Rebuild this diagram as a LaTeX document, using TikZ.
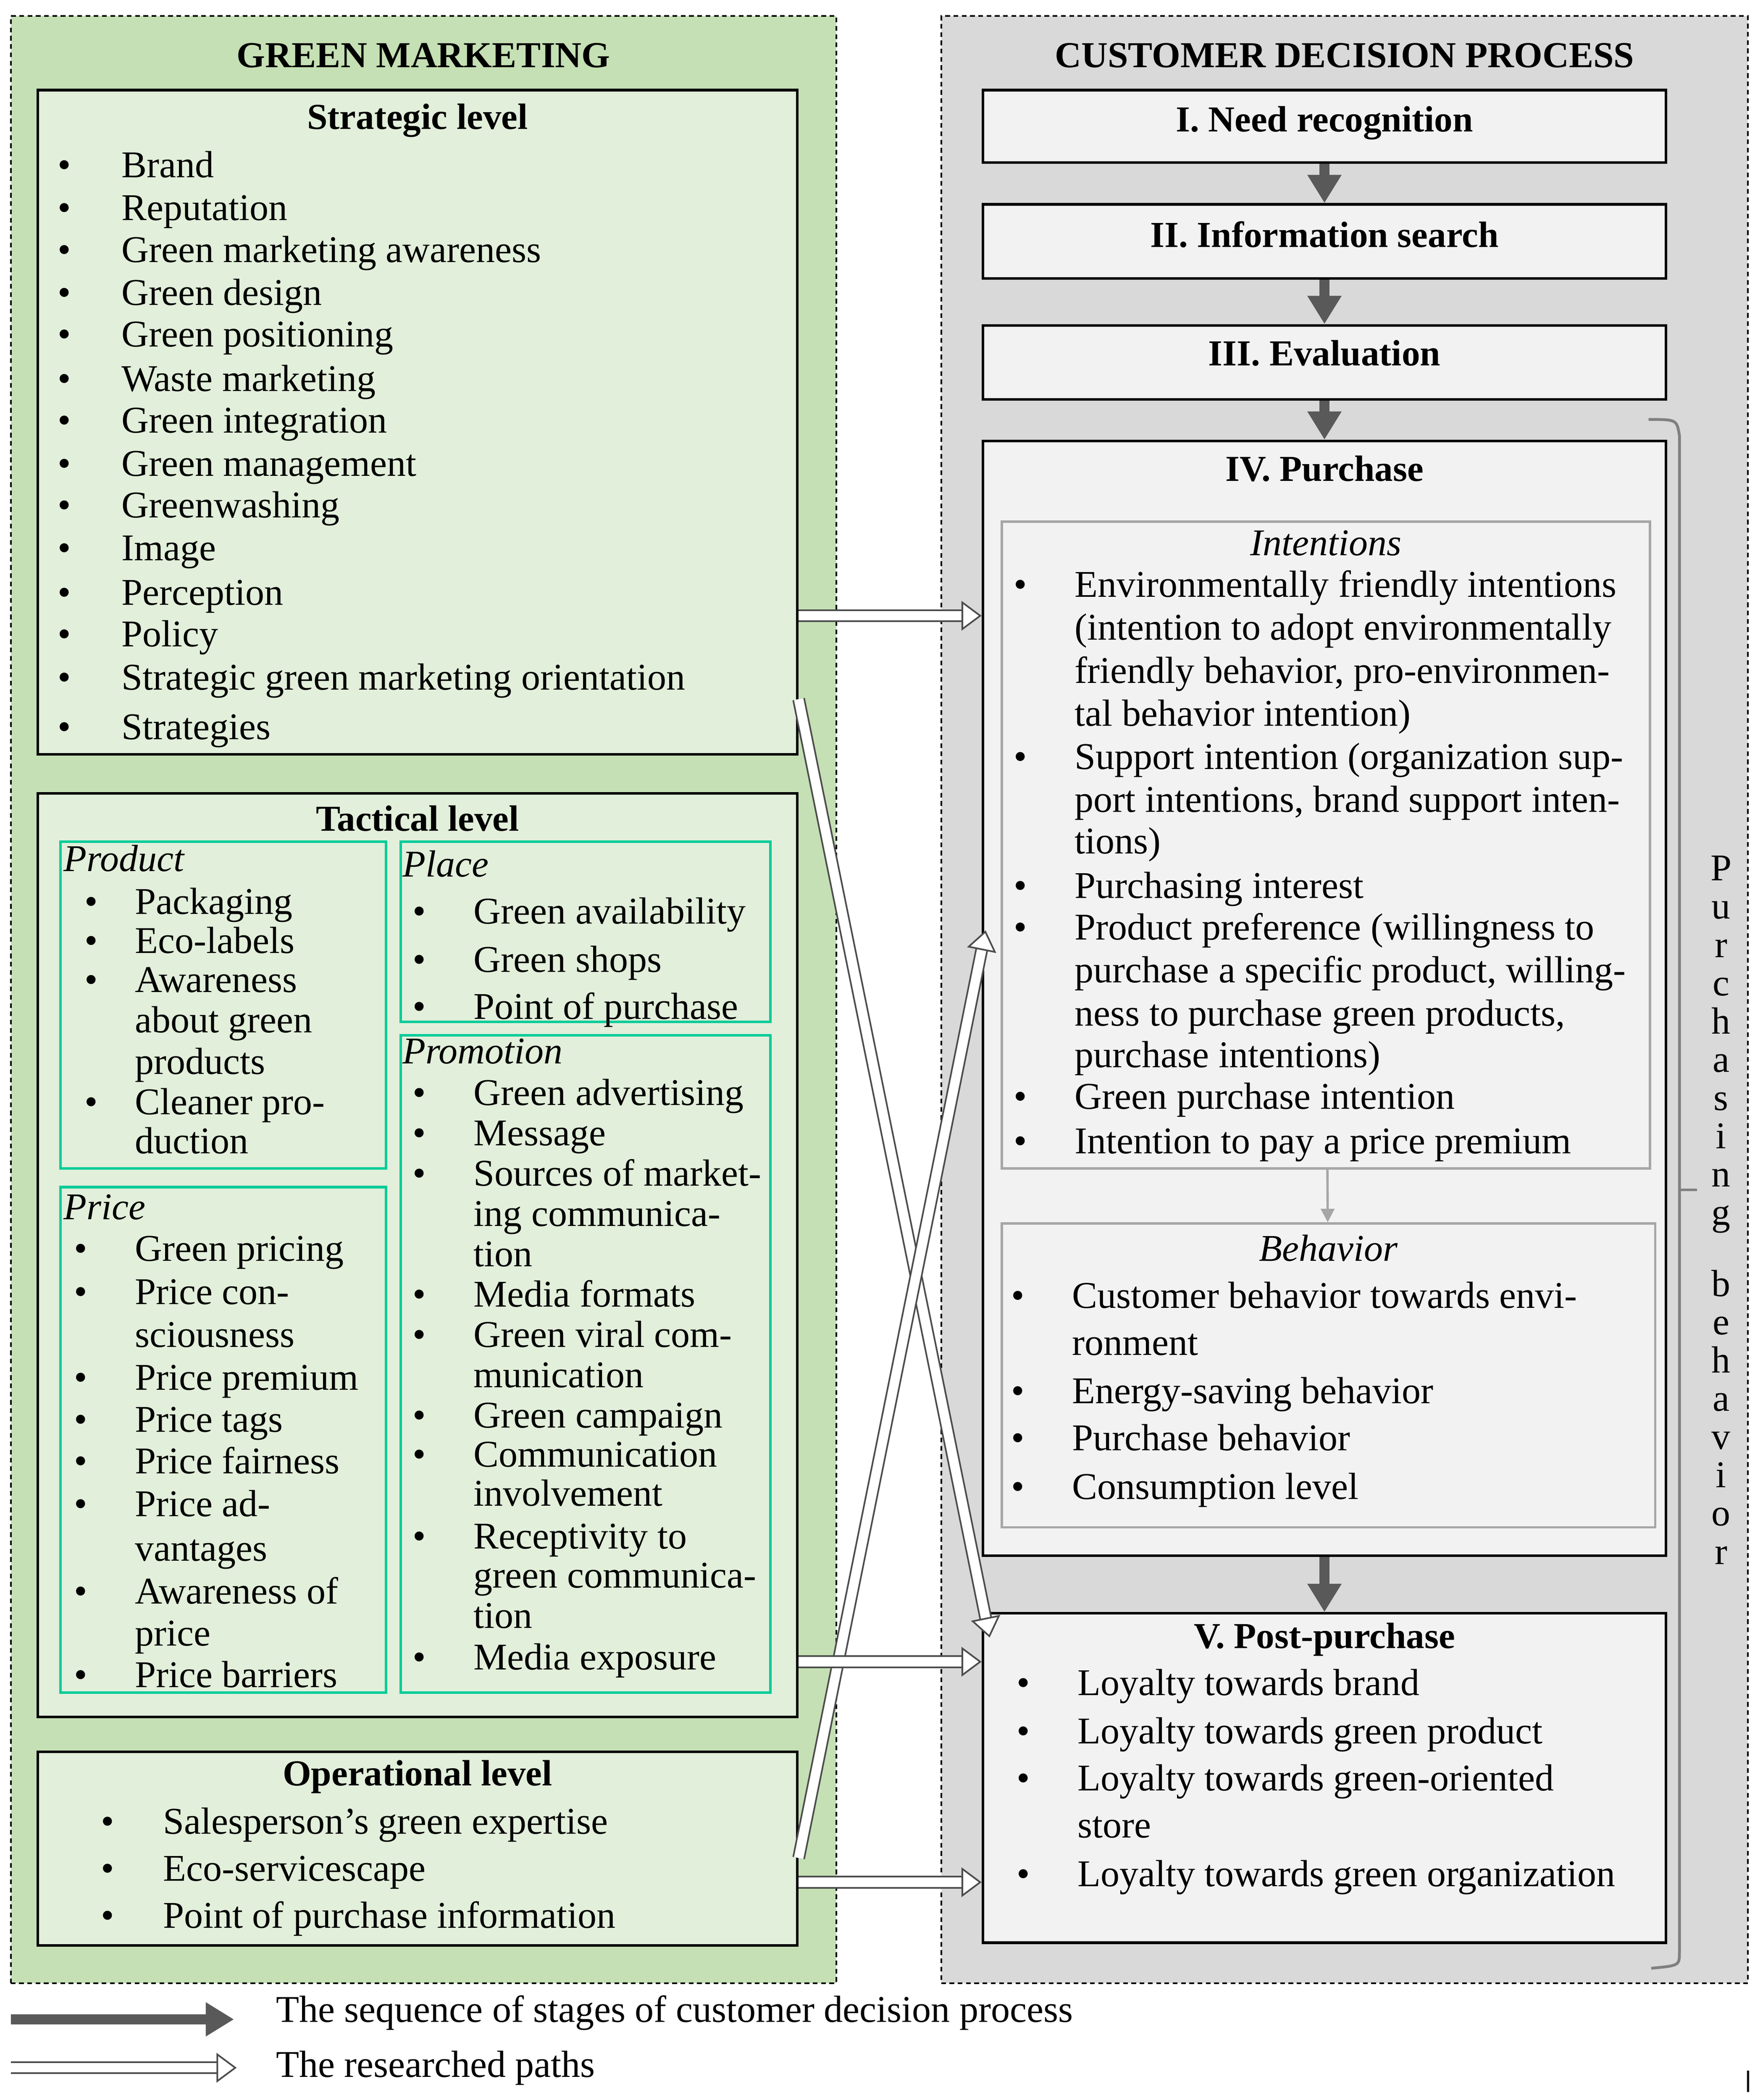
\documentclass[tikz,border=0pt]{standalone}
\usepackage{fontspec}
\setmainfont{Liberation Serif}
\usetikzlibrary{arrows.meta,fit}

\definecolor{gmouter}{HTML}{C5E0B4}
\definecolor{gminner}{HTML}{E2EFDA}
\definecolor{gmteal}{HTML}{00CC99}
\definecolor{cdouter}{HTML}{D9D9D9}
\definecolor{cdinner}{HTML}{F2F2F2}
\definecolor{cdline}{HTML}{A6A6A6}
\definecolor{seqgrey}{HTML}{595959}

\newcommand\gmfont{\fontsize{16}{18}\selectfont}
\newcommand\gmhfont{\fontsize{15.5}{18}\selectfont\bfseries}

\tikzset{
  frame/.style={draw, dash pattern=on 2pt off 1.5pt, line width=0.7pt, inner sep=0pt},
  lvlbox/.style={draw, line width=1.1pt, fill=gminner, inner sep=0pt},
  mixbox/.style={draw=gmteal, line width=1.1pt, inner sep=0pt},
  stagebox/.style={draw, line width=1.1pt, fill=cdinner, inner sep=0pt},
  subbox/.style={draw=cdline, line width=1pt, inner sep=0pt},
  itm/.style={anchor=base west, inner sep=0pt, yshift=-0.14cm, font=\gmfont},
  blt/.style={anchor=base, inner sep=0pt, yshift=-0.14cm, font=\gmfont},
  hd/.style={anchor=base, inner sep=0pt, yshift=-0.14cm, font=\gmhfont},
  seq/.style={draw=seqgrey, line width=0.15cm, -{Triangle[length=0.42cm,width=0.48cm]}},
  res/.style={draw=black!70, line width=0.7pt, double=white, double distance=0.14cm,
    -{Triangle[length=0.3cm,width=0.44cm,fill=white,line width=0.7pt]}},
}

\begin{document}
\begin{tikzpicture}[x=0.02cm, y=-0.02cm]
 \useasboundingbox (0,0) rectangle (1305,1562);

 % outer frames
 \node[frame, fill=gmouter, fit={(8,12) (622,1475)}] (gm) {};
 \node[frame, fill=cdouter, fit={(700,12) (1300,1475)}] (cd) {};
 \node[hd] (gmt) at (gm.north |- 0,43) {GREEN MARKETING};
 \node[hd] (cdt) at (cd.north |- 0,43) {CUSTOMER DECISION PROCESS};

 % green marketing levels
 \node[lvlbox, fit={(28,67) (593,561)}] (strat) {};
 \node[lvlbox, fit={(28,590) (593,1277)}] (tact) {};
 \node[lvlbox, fit={(28,1303) (593,1447)}] (oper) {};
 \node[mixbox, fit={(45,626) (287,869)}] (prod) {};
 \node[mixbox, fit={(45,883) (287,1259)}] (price) {};
 \node[mixbox, fit={(298,626) (573,760)}] (place) {};
 \node[mixbox, fit={(298,770) (573,1259)}] (promo) {};

 \node[hd] (stratt) at (strat.north |- 0,89) {Strategic level};
 \foreach \y/\t in {125/Brand, 157/Reputation, 188/Green marketing awareness,
   220/Green design, 251/Green positioning, 284/Waste marketing,
   315/Green integration, 347/Green management, 378/Greenwashing, 410/Image,
   443/Perception, 474/Policy, 506/Strategic green marketing orientation,
   543/Strategies} {
   \node[blt] at (48,\y) {\textbullet};
   \node[itm] at (90,\y) {\t};
 }

 \node[hd] (tactt) at (tact.north |- 0,611) {Tactical level};
 \node[itm, font=\gmfont\itshape] (prodt) at (47,641) {Product};
 \foreach \y in {673,702,731,822} \node[blt] at (68,\y) {\textbullet};
 \foreach \y/\t in {673/Packaging, 702/Eco-labels, 731/Awareness, 761/about green,
   792/products, 822/Cleaner pro-, 851/duction}
   \node[itm] at (100,\y) {\t};

 \node[itm, font=\gmfont\itshape] (placet) at (299,645) {Place};
 \foreach \y/\t in {680/Green availability, 716/Green shops, 751/Point of purchase} {
   \node[blt] at (312,\y) {\textbullet};
   \node[itm] at (352,\y) {\t};
 }

 \node[itm, font=\gmfont\itshape] (promot) at (299,784) {Promotion};
 \foreach \y in {815,845,875,965,995,1055,1084,1145,1235} \node[blt] at (312,\y) {\textbullet};
 \foreach \y/\t in {815/Green advertising, 845/Message, 875/Sources of market-,
   905/ing communica-, 935/tion, 965/Media formats, 995/Green viral com-,
   1025/munication, 1055/Green campaign, 1084/Communication, 1113/involvement,
   1145/Receptivity to, 1174/green communica-, 1204/tion, 1235/Media exposure}
   \node[itm] at (352,\y) {\t};

 \node[itm, font=\gmfont\itshape] (pricet) at (47,900) {Price};
 \foreach \y in {931,963,1027,1058,1089,1121,1186,1248} \node[blt] at (60,\y) {\textbullet};
 \foreach \y/\t in {931/Green pricing, 963/Price con-, 995/sciousness,
   1027/Price premium, 1058/Price tags, 1089/Price fairness, 1121/Price ad-,
   1154/vantages, 1186/Awareness of, 1217/price, 1248/Price barriers}
   \node[itm] at (100,\y) {\t};

 \node[hd] (opert) at (oper.north |- 0,1321) {Operational level};
 \foreach \y/\t in {1357/Salesperson’s green expertise, 1392/Eco-servicescape,
   1427/Point of purchase information} {
   \node[blt] at (80,\y) {\textbullet};
   \node[itm] at (121,\y) {\t};
 }

 % decision stages
 \node[stagebox, fit={(731,67) (1239,121)}] (need) {};
 \node[stagebox, fit={(731,152) (1239,207)}] (info) {};
 \node[stagebox, fit={(731,242) (1239,297)}] (eval) {};
 \node[stagebox, fit={(731,328) (1239,1157)}] (purch) {};
 \node[stagebox, fit={(731,1200) (1239,1445)}] (post) {};
 \node[subbox, fit={(745,388) (1227,869)}] (intent) {};
 \node[subbox, fit={(745,910) (1231,1136)}] (behav) {};

 \node[hd] (needt) at (need.north |- 0,91) {I. Need recognition};
 \node[hd] (infot) at (info.north |- 0,177) {II. Information search};
 \node[hd] (evalt) at (eval.north |- 0,265) {III. Evaluation};
 \node[hd] (purcht) at (purch.north |- 0,351) {IV. Purchase};
 \node[hd] (postt) at (post.north |- 0,1219) {V. Post-purchase};

 \node[hd, font=\gmfont\itshape] (intentt) at (intent.north |- 0,406) {Intentions};
 \foreach \y in {437,565,661,692,818,851} \node[blt] at (759,\y) {\textbullet};
 \foreach \y/\t in {437/Environmentally friendly intentions,
   469/(intention to adopt environmentally,
   501/{friendly behavior, pro-environmen-},
   533/tal behavior intention),
   565/Support intention (organization sup-,
   597/{port intentions, brand support inten-},
   628/tions),
   661/Purchasing interest,
   692/Product preference (willingness to,
   724/{purchase a specific product, willing-},
   756/{ness to purchase green products,},
   787/purchase intentions),
   818/Green purchase intention,
   851/Intention to pay a price premium}
   \node[itm] at (799,\y) {\t};

 \node[hd, font=\gmfont\itshape] (behavt) at (behav.north |- 0,931) {Behavior};
 \foreach \y in {966,1037,1072,1108} \node[blt] at (757,\y) {\textbullet};
 \foreach \y/\t in {966/Customer behavior towards envi-, 1001/ronment,
   1037/Energy-saving behavior, 1072/Purchase behavior, 1108/Consumption level}
   \node[itm] at (797,\y) {\t};

 \foreach \y in {1254,1290,1325,1396} \node[blt] at (761,\y) {\textbullet};
 \foreach \y/\t in {1254/Loyalty towards brand, 1290/Loyalty towards green product,
   1325/Loyalty towards green-oriented, 1360/store,
   1396/Loyalty towards green organization}
   \node[itm] at (801,\y) {\t};

 % purchasing behavior bracket
 \draw[draw=black!50, line width=1.2pt] (1226,312) .. controls (1247,312) .. (1249,324)
   -- (1249,1452) .. controls (1249,1462) .. (1228,1464);
 \draw[draw=black!50, line width=1.2pt] (1249,885) -- (1262,885);
 \node[font=\fontsize{16}{16.2}\selectfont, align=center, inner sep=0pt] (pb) at (1280,900)
   {P\\u\\r\\c\\h\\a\\s\\i\\n\\g\\[0.49cm]b\\e\\h\\a\\v\\i\\o\\r};

 % stage sequence
 \draw[seq] (need) -- (info);
 \draw[seq] (info) -- (eval);
 \draw[seq] (eval) -- (purch);
 \draw[seq] (purch) -- (post);
 \draw[draw=cdline, line width=1pt, -{Triangle[length=0.2cm,width=0.2cm]}] (intent) -- (behav);

 % researched paths
 \draw[res] (strat.east |- 0,458) -- (purch.west |- 0,458);
 \draw[res] (strat.east |- 0,520) -- (736,1218);
 \draw[res] (oper.east |- 0,1382) -- (733,692);
 \draw[res] (tact.east |- 0,1236) -- (post.west |- 0,1236);
 \draw[res] (oper.east |- 0,1400) -- (post.west |- 0,1400);

 % legend
 \coordinate (l1a) at (8,1502);
 \coordinate (l1b) at (174,1502);
 \coordinate (l2a) at (8,1538);
 \coordinate (l2b) at (176,1538);
 \draw[seq] (l1a) -- (l1b);
 \draw[res] (l2a) -- (l2b);
 \node[itm] (l1t) at (205,1497) {The sequence of stages of customer decision process};
 \node[itm] (l2t) at (205,1538) {The researched paths};
 \draw[line width=1pt] (1300,1540) -- (1300,1556);
\end{tikzpicture}
\end{document}
